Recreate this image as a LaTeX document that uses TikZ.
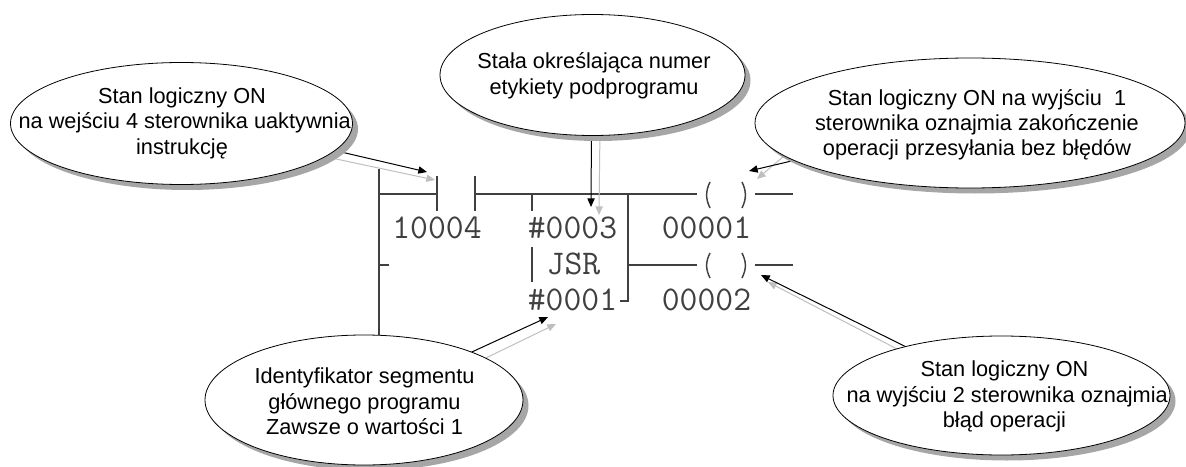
\documentclass[tikz,border=0pt]{standalone}
\usepackage{fontspec}
\setmainfont{Liberation Sans}
\usetikzlibrary{shapes.geometric,arrows.meta}
\colorlet{ladder}{black!75}
\colorlet{ghost}{black!25}
\tikzset{
  bubbleframe/.style={ellipse,inner sep=0pt,outer sep=0pt},
  bubble/.style={bubbleframe,draw=black,line width=0.6pt,fill=white},
  note/.style={align=center,inner sep=0pt,anchor=center,font=\fontsize{16.3}{19}\selectfont},
  plc/.style={inner sep=0pt,anchor=base,font=\fontsize{26}{26}\selectfont\ttfamily,text=ladder},
  rung/.style={draw=ladder,line width=1.1pt},
  callout/.style={draw=black,line width=0.75pt,-{Triangle[length=6.5pt,width=5.5pt]}},
  ghostarrow/.style={draw=ghost,line width=0.75pt,-{Triangle[length=6.5pt,width=5.5pt]}}
}
\begin{document}
\begin{tikzpicture}[x=0.75pt,y=-0.75pt]
\useasboundingbox (0,0) rectangle (1186,467);
% invisible frames that give the connectors their anchors
\node[bubbleframe,minimum width=256.5pt,minimum height=91.5pt] (e1) at (181.5,123.5) {};
\node[bubbleframe,minimum width=228.75pt,minimum height=90.75pt] (e2) at (592.5,75) {};
\node[bubbleframe,minimum width=322.5pt,minimum height=97.5pt] (e3) at (970,123) {};
\node[bubbleframe,minimum width=238.5pt,minimum height=97.5pt] (e4) at (364,400) {};
\node[bubbleframe,minimum width=252.75pt,minimum height=89.25pt] (e5) at (1001.5,395.5) {};
% arrow tips and ladder points
\coordinate (a1) at (427,172);
\coordinate (g1) at (435,180);
\coordinate (a2) at (591,207);
\coordinate (g2) at (599,215);
\coordinate (a3) at (749,171);
\coordinate (g3) at (757,179);
\coordinate (a4) at (548,317);
\coordinate (g4) at (556,324);
\coordinate (a5) at (761,275);
\coordinate (g5) at (768,282);
\coordinate (railtop) at (379,169);
\coordinate (bus) at (628,194);
% ladder
\draw[rung] (railtop) -- (railtop |- e4.north);
\draw[rung] (379,194) -- (437,194);
\draw[rung] (379,265) -- (389,265);
\draw[rung] (437,176) -- (437,211);
\draw[rung] (475,176) -- (475,211);
\draw[rung] (475,194) -- (697,194);
\draw[rung] (532,194) -- (532,211);
\draw[rung] (532,247) -- (532,282);
\draw[rung] (bus) -- (628,301) -- (620,301);
\draw[rung] (628,265) -- (697,265);
\draw[rung] (755,194) -- (793,194);
\draw[rung] (755,265) -- (793,265);
\draw[rung] (710,182) .. controls (705.5,191) and (705.5,199) .. (710,208);
\draw[rung] (742,182) .. controls (746.5,191) and (746.5,199) .. (742,208);
\draw[rung] (710,253) .. controls (705.5,262) and (705.5,269) .. (710,278);
\draw[rung] (742,253) .. controls (746.5,262) and (746.5,269) .. (742,278);
% connectors
\draw[ghostarrow] (e1.-13.2) -- (g1);
\draw[callout] (e1.-10.7) -- (a1);
\draw[ghostarrow] (e2.-83.8) -- (g2);
\draw[callout] (e2.-91) -- (a2);
\draw[ghostarrow] (e3.190) -- (g3);
\draw[callout] (e3.192.4) -- (a3);
\draw[ghostarrow] (e4.19.9) -- (g4);
\draw[callout] (e4.24.4) -- (a4);
\draw[ghostarrow] (e5.156) -- (g5);
\draw[callout] (e5.153.4) -- (a5);
% bubble shadows
\fill[gray!70] (187,129) ellipse [x radius=171,y radius=61];
\fill[gray!70] (598,80.5) ellipse [x radius=152.5,y radius=60.5];
\fill[gray!70] (975.5,128.5) ellipse [x radius=215,y radius=65];
\fill[gray!70] (369.5,405.5) ellipse [x radius=159,y radius=65];
\fill[gray!70] (1007,401) ellipse [x radius=168.5,y radius=59.5];
% bubbles
\node[bubble,minimum width=256.5pt,minimum height=91.5pt] (b1) at (e1.center) {};
\node[bubble,minimum width=228.75pt,minimum height=90.75pt] (b2) at (e2.center) {};
\node[bubble,minimum width=322.5pt,minimum height=97.5pt] (b3) at (e3.center) {};
\node[bubble,minimum width=238.5pt,minimum height=97.5pt] (b4) at (e4.center) {};
\node[bubble,minimum width=252.75pt,minimum height=89.25pt] (b5) at (e5.center) {};
% bubble texts
\node[note] (t1) at (182,123.3) {Stan logiczny ON\\\hspace*{4pt}na wejściu 4 sterownika uaktywnia\\instrukcję};
\node[note] (t2) at (594,75.6) {Stała określająca numer\\etykiety podprogramu};
\node[note] (t3) at (977,124.6) {Stan logiczny ON na wyjściu\ \ 1\\sterownika oznajmia zakończenie\\operacji przesyłania bez błędów};
\node[note] (t4) at (364.5,401.5) {Identyfikator segmentu\\głównego programu\\Zawsze o wartości 1};
\node[note] (t5) at (1004.5,396.5) {Stan logiczny ON\\\hspace*{4pt}na wyjściu 2 sterownika oznajmia\\błąd operacji};
% ladder labels
\node[plc] (l1) at (437,238) {10004};
\node[plc] (l2) at (572.5,238) {\#0003};
\node[plc] (l3) at (573.5,274) {JSR};
\node[plc] (l4) at (572.5,310) {\#0001};
\node[plc] (l5) at (706.5,238) {00001};
\node[plc] (l6) at (706.5,310) {00002};
\end{tikzpicture}
\end{document}
